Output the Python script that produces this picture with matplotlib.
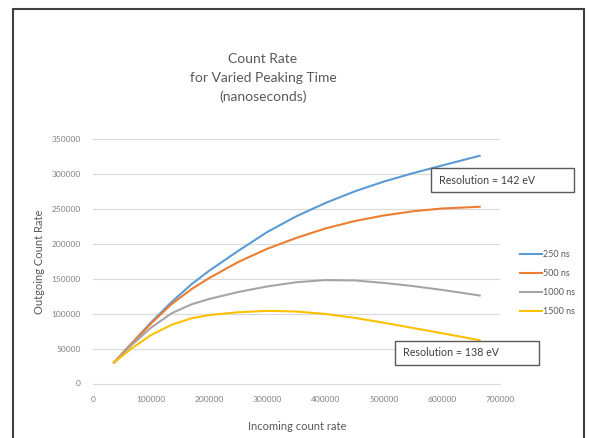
import numpy as np
import matplotlib
matplotlib.use('Agg')
import matplotlib.pyplot as plt
from matplotlib.patches import Rectangle

# входные данные
incoming = [36000, 67000, 100000, 135000, 170000, 200000, 250000, 300000,
            350000, 400000, 450000, 500000, 550000, 600000, 665000]
out_250 = [30000, 58000, 87500, 116500, 142500, 161500, 190000, 217000,
           239500, 258500, 275000, 289000, 301000, 312000, 326000]
out_500 = [30000, 57500, 86000, 113500, 135500, 151000, 174000, 193000,
           208500, 222000, 232500, 240500, 246500, 250500, 253000]
out_1000 = [30000, 55500, 80000, 100500, 113500, 121000, 131000, 139000,
            145000, 148000, 147500, 144000, 139500, 134000, 126000]
out_1500 = [30000, 50500, 69500, 84000, 93500, 98000, 102000, 104000,
            103000, 99500, 94000, 87000, 79500, 72000, 62000]

labels = ['250 ns', '500 ns', '1000 ns', '1500 ns']
colors = ['#5B9BD5', '#ED7D31', '#A5A5A5', '#FFC000']
x_ticks = [0, 100000, 200000, 300000, 400000, 500000, 600000, 700000]
y_ticks = [0, 50000, 100000, 150000, 200000, 250000, 300000, 350000]

plt.rcParams['font.family'] = ['Lato', 'DejaVu Sans']
W, H = 589, 438
fig = plt.figure(figsize=(W / 100, H / 100), dpi=100)
fig.patch.set_facecolor('white')

ax = fig.add_axes([93 / W, 1 - 383.5 / H, 407 / W, 244.5 / H])
for ys, lab, col in zip([out_250, out_500, out_1000, out_1500], labels, colors):
    ax.plot(incoming, ys, color=col, lw=1.5, label=lab)

ax.set_xlim(0, 700000)
ax.set_ylim(0, 350000)
ax.set_xticks(x_ticks)
ax.set_yticks(y_ticks)
ax.set_xticklabels([str(t) for t in x_ticks])
ax.set_yticklabels([str(t) for t in y_ticks])
ax.tick_params(length=0, labelsize=6, labelcolor='#7f7f7f', pad=9)
ax.grid(axis='y', color='#d9d9d9', lw=0.8)
ax.set_axisbelow(True)
for s in ['top', 'right', 'left']:
    ax.spines[s].set_visible(False)
ax.spines['bottom'].set_color('#d9d9d9')

ax.set_xlabel('Incoming count rate', fontsize=8, color='#595959')
ax.set_ylabel('Outgoing Count Rate', fontsize=8, color='#595959')
ax.xaxis.set_label_coords((297 - 93) / 407, (383.5 - 421) / 244.5)
ax.yaxis.set_label_coords((45 - 93) / 407, (383.5 - 262) / 244.5)

leg = ax.legend(loc='center left', bbox_to_anchor=(512 / W, 1 - 283 / H),
                bbox_transform=fig.transFigure, frameon=False, fontsize=6.5,
                handlelength=2.4, handletextpad=0.1, labelspacing=1.1)
for t in leg.get_texts():
    t.set_color('#595959')

fig.text(263 / W, 1 - 78 / H, 'Count Rate\nfor Varied Peaking Time\n(nanoseconds)',
         ha='center', va='center', fontsize=10, color='#595959', linespacing=1.66)

# рамки с подписями разрешения
boxes = [(431, 168, 574, 192, 'Resolution = 142 eV'),
         (395, 341, 539, 365, 'Resolution = 138 eV')]
for x0, y0, x1, y1, txt in boxes:
    fig.patches.append(Rectangle((x0 / W, 1 - y1 / H), (x1 - x0) / W, (y1 - y0) / H,
                                 transform=fig.transFigure, fill=True, facecolor='white',
                                 edgecolor='#595959', lw=1.0, zorder=5))
    fig.text((x0 + 8) / W, 1 - (y0 + y1) / 2 / H, txt, ha='left', va='center',
             fontsize=7.7, color='#404040', zorder=6)

# внешняя рамка
fig.patches.append(Rectangle((13 / W, -0.02), 571 / W, 1 - 9 / H + 0.02,
                             transform=fig.transFigure, fill=False,
                             edgecolor='#404040', lw=1.5))

fig.savefig('out.png', dpi=100)
